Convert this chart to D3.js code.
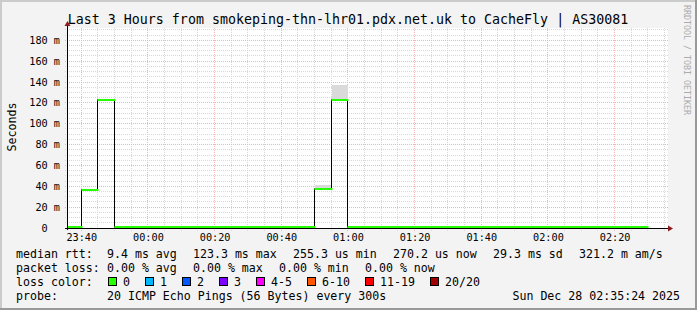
<!DOCTYPE html>
<html>
<head>
<meta charset="utf-8">
<script src="https://cdn.jsdelivr.net/npm/d3@7"></script>
<style>
  body { margin: 0; background: #f3f3f3; }
  svg { display: block; }
  text { font-family: "DejaVu Sans Mono", monospace; fill: #000; white-space: pre; }
</style>
</head>
<body>
<div id="graph"></div>
<script>
// chart data
const title = "Last 3 Hours from smokeping-thn-lhr01.pdx.net.uk to CacheFly | AS30081";
const intervalStarts = ["23:35","23:40","23:45","23:50","23:55","00:00","00:05","00:10","00:15","00:20",
  "00:25","00:30","00:35","00:40","00:45","00:50","00:55","01:00","01:05","01:10",
  "01:15","01:20","01:25","01:30","01:35","01:40","01:45","01:50","01:55","02:00",
  "02:05","02:10","02:15","02:20","02:25"];
const medianMs = [0.27, 36.7, 123.1, 0.26, 0.27, 0.27, 0.26, 0.27, 0.28, 0.27,
  0.26, 0.27, 0.27, 0.26, 0.27, 37.7, 122.8, 0.27, 0.26, 0.27,
  0.27, 0.28, 0.26, 0.27, 0.27, 0.26, 0.27, 0.27, 0.28, 0.27,
  0.26, 0.27, 0.27, 0.26, 0.27];
const pingMinMs = [0.26, 36.5, 122.9, 0.26, 0.26, 0.26, 0.26, 0.26, 0.27, 0.26,
  0.26, 0.26, 0.26, 0.26, 0.26, 37.4, 122.4, 0.26, 0.26, 0.26,
  0.26, 0.27, 0.26, 0.26, 0.26, 0.26, 0.26, 0.26, 0.27, 0.26,
  0.26, 0.26, 0.26, 0.26, 0.26];
const pingMaxMs = [0.29, 37.0, 123.6, 0.28, 0.29, 0.28, 0.28, 0.29, 0.30, 0.29,
  0.28, 0.29, 0.28, 0.28, 0.29, 41.0, 136.9, 0.29, 0.28, 0.29,
  0.28, 0.30, 0.28, 0.29, 0.29, 0.28, 0.29, 0.28, 0.30, 0.29,
  0.28, 0.29, 0.29, 0.28, 0.29];
const lossPct = medianMs.map(() => 0);

const yTicksMs = [0, 20, 40, 60, 80, 100, 120, 140, 160, 180];
const xTickLabels = ["23:40","00:00","00:20","00:40","01:00","01:20","01:40","02:00","02:20"];

const rttStats = ["9.4 ms avg", "123.3 ms max", "255.3 us min", "270.2 us now", "29.3 ms sd", "321.2 m am/s"];
const lossStats = ["0.00 % avg", "0.00 % max", "0.00 % min", "0.00 % now"];
const lossLabels = ["0", "1", "2", "3", "4-5", "6-10", "11-19", "20/20"];
const lossColors = ["#26ff00", "#00b8ff", "#0059ff", "#7e00ff", "#ff00ff", "#ff5500", "#ff0000", "#a10000"];
const probeText = "20 ICMP Echo Pings (56 Bytes) every 300s";
const stamp = "Sun Dec 28 02:35:24 2025";

// layout
const W = 697, H = 310;
const plot = {left: 67, top: 28, width: 600, height: 200};
const CH = 7; // legend char advance

const parseHM = function(s) {
  const p = s.split(":").map(Number);
  // times before noon belong to the next day
  return new Date(2025, 11, p[0] >= 12 ? 27 : 28, p[0], p[1], 0);
};
const startTime = new Date(2025, 11, 27, 23, 35, 43);
const endTime = new Date(2025, 11, 28, 2, 35, 43);
const STEP = 5 * 60 * 1000;

const x = d3.scaleTime().domain([startTime, endTime]).range([plot.left, plot.left + plot.width]);
const y = d3.scaleLinear().domain([0, 191.8]).range([plot.top + plot.height, plot.top]);
const snap = v => Math.floor(v) + 0.5;
const bottomRow = plot.top + plot.height - 1;

const svg = d3.select("#graph").append("svg")
  .attr("width", W).attr("height", H);

// frame
svg.append("rect").attr("width", W).attr("height", H).attr("fill", "#f3f3f3");
svg.append("path").attr("d", "M0,1H" + W + "M1,0V" + H).attr("stroke", "#cbcbcb").attr("stroke-width", 2);
svg.append("path").attr("d", "M0," + (H - 1) + "H" + W + "M" + (W - 1) + ",0V" + H).attr("stroke", "#999").attr("stroke-width", 2);

// canvas
svg.append("rect")
  .attr("x", plot.left).attr("y", plot.top)
  .attr("width", plot.width + 1).attr("height", plot.height)
  .attr("fill", "#fff");

// grid
const grid = svg.append("g").attr("shape-rendering", "crispEdges").attr("fill", "none");
const minorX = d3.timeMinute.every(5).range(startTime, endTime);
minorX.forEach(function(t) {
  const major = t.getMinutes() % 20 === 0;
  grid.append("line")
    .attr("x1", snap(x(t))).attr("x2", snap(x(t)))
    .attr("y1", plot.top).attr("y2", plot.top + plot.height + 3)
    .attr("stroke", major ? "#f2b4b4" : "#d8d8d8")
    .attr("stroke-dasharray", "1,1");
});
d3.range(0, 191.8, 5).forEach(function(v) {
  const major = v % 20 === 0;
  if (v === 0) return;
  grid.append("line")
    .attr("x1", plot.left - 2).attr("x2", plot.left + plot.width + 2)
    .attr("y1", snap(y(v))).attr("y2", snap(y(v)))
    .attr("stroke", major ? "#f2b4b4" : "#d8d8d8")
    .attr("stroke-dasharray", "1,1");
});

// data
const times = intervalStarts.map(parseHM);
svg.append("clipPath").attr("id", "clip").append("rect")
  .attr("x", plot.left).attr("y", plot.top - 10)
  .attr("width", plot.width).attr("height", plot.height + 10);
const marks = svg.append("g").attr("clip-path", "url(#clip)");

// smoke
marks.selectAll("rect.smoke")
  .data(times)
  .enter()
  .append("rect")
    .attr("class", "smoke")
    .attr("x", d => Math.floor(x(d)) + 1)
    .attr("width", d => Math.floor(x(new Date(+d + STEP))) - Math.floor(x(d)))
    .attr("y", (d, i) => Math.round(y(pingMaxMs[i])))
    .attr("height", (d, i) => Math.max(0, Math.round(y(pingMinMs[i])) - Math.round(y(pingMaxMs[i]))))
    .attr("fill", "#dadada");

// black median step line
let pathD = "";
times.forEach(function(t, i) {
  const x0 = snap(x(t)), x1 = snap(x(new Date(+t + STEP)));
  const yy = snap(y(medianMs[i]));
  pathD += (i === 0 ? "M" + x0 + "," + yy : "V" + yy) + "H" + x1;
});
marks.append("path")
  .attr("d", pathD)
  .attr("fill", "none")
  .attr("stroke", "#000")
  .attr("stroke-width", 1);

// green (loss coloured) median segments
const greenY = v => Math.min(Math.round(y(v)), bottomRow);
marks.selectAll("line.med")
  .data(times)
  .enter()
  .append("line")
    .attr("class", "med")
    .attr("x1", d => snap(x(d)))
    .attr("x2", d => snap(x(new Date(+d + STEP))) + 1)
    .attr("y1", (d, i) => greenY(medianMs[i]))
    .attr("y2", (d, i) => greenY(medianMs[i]))
    .attr("stroke", (d, i) => lossColors[lossPct[i]])
    .attr("stroke-width", 2);

// axes
const axisG = svg.append("g").attr("shape-rendering", "crispEdges");
axisG.append("line")
  .attr("x1", plot.left - 2).attr("x2", plot.left + plot.width + 2)
  .attr("y1", plot.top + plot.height + 0.5).attr("y2", plot.top + plot.height + 0.5)
  .attr("stroke", "#000");
axisG.append("line")
  .attr("x1", plot.left + 0.5).attr("x2", plot.left + 0.5)
  .attr("y1", plot.top + plot.height + 2).attr("y2", plot.top - 3)
  .attr("stroke", "#000");
svg.append("path")
  .attr("d", "M" + (plot.left + 0.5) + "," + (plot.top - 7) + "l-3,5h6z")
  .attr("fill", "#8b1a1a");
svg.append("path")
  .attr("d", "M" + (plot.left + plot.width + 6) + "," + (plot.top + plot.height + 0.5) + "l-5,-3v6z")
  .attr("fill", "#8b1a1a");

// y labels
svg.append("g").selectAll("text")
  .data(yTicksMs)
  .enter()
  .append("text")
    .attr("x", 60)
    .attr("y", d => y(d) + 3.5)
    .attr("text-anchor", "end")
    .style("font-size", "10.2px")
    .text(d => d === 0 ? "0  " : d + " m");

// x labels
svg.append("g").selectAll("text")
  .data(xTickLabels)
  .enter()
  .append("text")
    .attr("x", d => x(parseHM(d)) + 0.5)
    .attr("y", 241)
    .attr("text-anchor", "middle")
    .style("font-size", "10.2px")
    .text(d => d);

// title and labels
svg.append("text")
  .attr("x", 348).attr("y", 23.5)
  .attr("text-anchor", "middle")
  .style("font-size", "13.3px")
  .text(title);

svg.append("text")
  .attr("transform", "translate(15.5,127) rotate(-90)")
  .attr("text-anchor", "middle")
  .style("font-size", "11.6px")
  .text("Seconds");

svg.append("text")
  .attr("transform", "translate(684,60) rotate(90)")
  .attr("text-anchor", "middle")
  .style("font-size", "8.3px")
  .style("fill", "#ababab")
  .text("RRDTOOL / TOBI OETIKER");

// legend
const legend = svg.append("g").style("font-size", "11.6px");
const col1 = 16, col2 = 107;
function statRow(labels, yy) {
  let cx = col2;
  labels.forEach(function(s) {
    legend.append("text").attr("x", cx).attr("y", yy).text(s);
    cx += s.length * CH + 16;
  });
}
legend.append("text").attr("x", col1).attr("y", 258).text("median rtt:");
statRow(rttStats, 258);
legend.append("text").attr("x", col1).attr("y", 272).text("packet loss:");
statRow(lossStats, 272);
legend.append("text").attr("x", col1).attr("y", 286).text("loss color:");
let bx = 108;
lossLabels.forEach(function(s, i) {
  legend.append("rect")
    .attr("x", bx + 0.5).attr("y", 277.5)
    .attr("width", 8).attr("height", 8)
    .attr("fill", lossColors[i])
    .attr("stroke", "#000");
  legend.append("text").attr("x", bx + 15).attr("y", 286).text(s);
  bx += 15 + s.length * CH + 15;
});
legend.append("text").attr("x", col1).attr("y", 300).text("probe:");
legend.append("text").attr("x", col2).attr("y", 300).text(probeText);
legend.append("text").attr("x", 680).attr("y", 300).attr("text-anchor", "end").text(stamp);
</script>
</body>
</html>
